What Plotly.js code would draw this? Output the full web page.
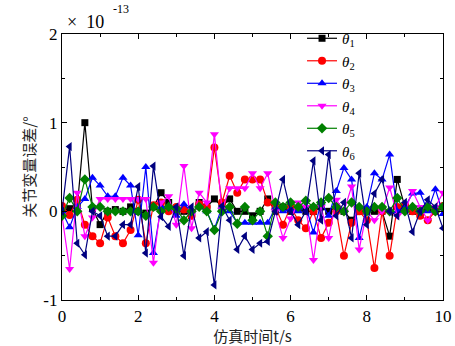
<!DOCTYPE html>
<html>
<head>
<meta charset="utf-8">
<script src="https://cdn.plot.ly/plotly-3.0.1.min.js"></script>
<style>html,body{margin:0;padding:0;background:#fff;}#chart{width:455px;height:346px;}</style>
</head>
<body>
<div id="chart"></div>
<script>
// time samples (s): 0, 0.2, ..., 10
const timeStep = 0.2;
const time = Array.from({length: 51}, (_, i) => +(i * timeStep).toFixed(1));

// joint variable errors, in units of 1e-13 degrees
const theta1 = [0.0,0.03,0.05,1.0,0.03,-0.15,0.0,0.02,0.0,0.05,0.0,-0.02,0.05,0.21,0.1,0.0,0.0,-0.05,0.1,0.05,0.14,0.05,0.14,0.0,0.0,-0.05,0.0,0.14,0.0,0.05,0.0,0.03,0.0,0.0,0.05,0.0,0.05,0.0,-0.1,0.0,0.0,0.0,0.0,-0.28,0.36,0.05,0.0,0.0,0.03,0.0,0.05];
const theta2 = [0.06,-0.04,0.13,-0.15,-0.28,-0.36,-0.07,-0.28,-0.36,-0.21,0.13,-0.36,0.07,0.1,0.0,0.05,0.02,-0.05,0.08,0.05,0.72,0.1,0.4,0.21,0.36,0.36,0.36,0.1,0.05,-0.15,0.05,-0.1,-0.19,0.0,-0.3,-0.13,0.0,-0.5,-0.13,0.0,-0.1,-0.64,0.0,-0.5,0.05,0.07,0.0,-0.05,-0.1,0.0,0.06];
const theta3 = [0.0,-0.18,0.05,0.14,0.38,0.29,0.17,0.17,0.38,0.29,-0.27,0.5,-0.47,0.05,0.05,-0.05,0.08,0.0,0.05,0.0,-0.2,0.05,0.0,-0.13,-0.13,-0.13,-0.13,-0.13,0.04,0.0,0.02,0.0,0.06,-0.24,0.1,-0.05,0.23,0.49,0.36,-0.3,0.05,0.43,0.36,0.64,0.0,0.05,0.2,0.21,0.0,0.25,-0.03];
const theta4 = [-0.05,-0.65,0.21,-0.28,-0.07,0.14,0.14,0.14,0.14,0.14,0.14,0.14,-0.58,0.1,0.17,-0.15,0.51,-0.19,0.21,0.1,0.87,0.02,0.26,0.26,0.26,0.43,0.26,0.43,0.0,-0.3,-0.08,0.1,0.05,-0.55,0.05,-0.3,0.13,0.0,0.28,-0.43,0.0,-0.1,0.0,0.27,-0.05,0.0,0.23,0.05,-0.1,0.05,0.21];
const theta5 = [-0.05,0.15,0.0,0.36,0.05,0.05,0.0,0.0,0.0,0.0,0.0,-0.05,0.05,0.0,0.05,0.03,-0.1,0.0,0.05,0.0,-0.21,0.0,0.05,-0.14,0.05,-0.1,0.0,-0.28,0.1,0.05,0.1,0.05,0.12,0.05,0.1,0.15,0.05,0.0,0.1,0.05,0.0,0.05,0.05,0.0,0.15,0.0,0.05,0.0,0.05,0.0,0.05];
const theta6 = [0.0,0.73,-0.36,-0.49,0.0,-0.05,-0.28,-0.28,-0.15,-0.15,0.28,-0.47,0.51,-0.06,-0.17,0.05,-0.5,0.05,-0.3,-0.23,-0.83,0.06,-0.1,-0.43,-0.28,-0.43,-0.36,-0.34,0.0,0.36,0.0,-0.15,0.0,0.57,-0.1,0.64,-0.05,0.1,-0.3,0.43,-0.15,0.2,0.36,0.0,-0.05,0.1,-0.23,0.0,0.13,0.05,-0.19];

const seriesNames = ['<i>θ</i><sub>1</sub>','<i>θ</i><sub>2</sub>','<i>θ</i><sub>3</sub>','<i>θ</i><sub>4</sub>','<i>θ</i><sub>5</sub>','<i>θ</i><sub>6</sub>'];
const seriesValues = [theta1, theta2, theta3, theta4, theta5, theta6];
const seriesColors = ['#000000','#ff0000','#0000ff','#ff00ff','#008000','#000080'];
const seriesSymbols = ['square','circle','triangle-up','triangle-down','diamond','triangle-left'];
const seriesSizes = [7,8,8,8,8,8];

const xTickVals = [0,2,4,6,8,10];
const xTickText = ['0','2','4','6','8','10'];
const yTickVals = [-1,0,1,2];
const yTickText = ['-1','0','1','2'];

const traces = seriesValues.map((vals, k) => ({
  x: time, y: vals, type: 'scatter', mode: 'lines+markers',
  name: seriesNames[k],
  line: {color: seriesColors[k], width: 1.2},
  marker: {color: seriesColors[k], symbol: seriesSymbols[k], size: seriesSizes[k]}
}));

const serif = 'Liberation Serif, Times New Roman, serif';
const axisCommon = {
  showline: true, linecolor: '#000', linewidth: 1.2, mirror: 'ticks',
  ticks: 'inside', ticklen: 5, tickwidth: 1, tickcolor: '#000',
  showgrid: false, zeroline: false,
  tickfont: {family: serif, size: 17, color: '#000'},
  minor: {ticks: 'inside', ticklen: 3, tickwidth: 1, tickcolor: '#000'}
};

const layout = {
  width: 455, height: 346,
  margin: {l: 62, r: 12, t: 34, b: 46},
  paper_bgcolor: '#fff', plot_bgcolor: '#fff',
  showlegend: true,
  legend: {x: 0.63, y: 1.045, xanchor: 'left', yanchor: 'top', bgcolor: 'rgba(0,0,0,0)',
           font: {family: serif, size: 15, color: '#000'}, tracegroupgap: 0},
  xaxis: Object.assign({}, axisCommon, {
    range: [0, 10], tickvals: xTickVals, ticktext: xTickText,
    minor: Object.assign({}, axisCommon.minor, {dtick: 1}),
    title: {text: '仿真时间t/s', font: {family: 'Noto Sans CJK SC', size: 15, color: '#222'}, standoff: 6}
  }),
  yaxis: Object.assign({}, axisCommon, {
    range: [-1, 2], tickvals: yTickVals, ticktext: yTickText,
    minor: Object.assign({}, axisCommon.minor, {dtick: 0.5}),
    title: {text: '关节变量误差/°', font: {family: 'Noto Sans CJK SC', size: 15, color: '#222'}, standoff: 4}
  }),
  annotations: [
    {xref: 'paper', yref: 'paper', x: 0.008, y: 1.045, xanchor: 'left', yanchor: 'middle', showarrow: false,
     text: '×  10', font: {family: serif, size: 18, color: '#000'}},
    {xref: 'paper', yref: 'paper', x: 0.128, y: 1.095, xanchor: 'left', yanchor: 'middle', showarrow: false,
     text: '-13', font: {family: serif, size: 12, color: '#000'}}
  ]
};

Plotly.newPlot('chart', traces, layout, {staticPlot: true, displayModeBar: false});
</script>
</body>
</html>
